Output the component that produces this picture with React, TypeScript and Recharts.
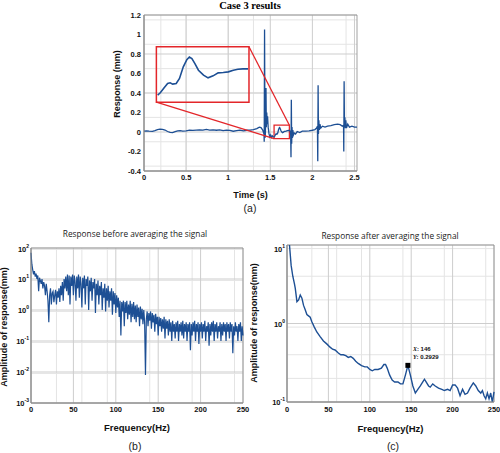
import {
  LineChart,
  Line,
  XAxis,
  YAxis,
  CartesianGrid,
  ReferenceArea,
  ReferenceLine,
  ReferenceDot,
} from 'recharts';

// (a) time response, [t (s), response (mm)]
const signalHead: [number, number][] = [
  [0, 0.01], [0.03, 0.012], [0.06, 0.008], [0.1, 0.006], [0.13, 0.015], [0.16, 0.025],
  [0.19, 0.03], [0.22, 0.028], [0.25, 0.02], [0.28, 0.005], [0.31, -0.004], [0.34, -0.006],
  [0.37, 0.004], [0.4, 0.012], [0.43, 0.015], [0.46, 0.01], [0.5, 0.012], [0.54, 0.02],
  [0.58, 0.016], [0.62, 0.02], [0.66, 0.022], [0.7, 0.02], [0.74, 0.026], [0.78, 0.02],
  [0.82, 0.022], [0.86, 0.018], [0.9, 0.022], [0.94, 0.015], [0.98, 0.02], [1.02, 0.016],
  [1.06, 0.008], [1.1, 0.014], [1.14, 0.02], [1.18, 0.012], [1.22, 0.018], [1.26, 0.02],
  [1.3, 0.025], [1.34, 0.035], [1.37, 0.05], [1.39, 0.045], [1.41, 0.02], [1.425, -0.02],
  [1.428, -0.1], [1.432, 1.05], [1.436, 0.15], [1.44, -0.06], [1.445, 0.1], [1.449, 0.45],
  [1.453, 0.05], [1.458, 0.2], [1.463, 0.08], [1.468, 0.16], [1.475, 0.05], [1.485, -0.02],
  [1.495, -0.05], [1.505, -0.03], [1.515, -0.055], [1.525, -0.04], [1.535, -0.05],
];

// part shown magnified in the inset
const zoomWindow: [number, number][] = [
  [1.5463, -0.0497], [1.5515, -0.0439], [1.558, -0.0332], [1.566, -0.0208], [1.571, -0.0191],
  [1.576, -0.0224], [1.583, -0.0208], [1.5895, -0.0084], [1.597, 0.0205], [1.604, 0.0386],
  [1.609, 0.0452], [1.614, 0.0411], [1.62, 0.0287], [1.627, 0.0122], [1.637, -0.0002],
  [1.646, -0.0068], [1.656, -0.0018], [1.666, 0.0056], [1.676, 0.0064], [1.686, 0.0081],
  [1.696, 0.0122], [1.705, 0.0147], [1.715, 0.0155], [1.725, 0.0155],
];

const signalTail: [number, number][] = [
  [1.735, 0.01], [1.742, -0.02], [1.746, -0.26], [1.75, 0.33], [1.754, -0.12], [1.758, 0.05],
  [1.763, -0.06], [1.768, 0.02], [1.775, -0.03], [1.785, -0.01], [1.8, -0.02], [1.82, 0.005],
  [1.85, -0.005], [1.88, 0.008], [1.92, 0.01], [1.96, 0.012], [2.0, 0.018], [2.03, 0.025],
  [2.05, 0.04], [2.06, 0.06], [2.064, -0.3], [2.068, 0.48], [2.072, -0.02], [2.077, 0.12],
  [2.082, 0.02], [2.09, 0.08], [2.1, 0.04], [2.12, 0.06], [2.15, 0.05], [2.18, 0.06],
  [2.22, 0.065], [2.26, 0.075], [2.3, 0.08], [2.33, 0.075], [2.355, 0.06], [2.37, 0.07],
  [2.373, -0.2], [2.377, 0.52], [2.381, 0.05], [2.386, 0.15], [2.391, 0.04], [2.397, 0.12],
  [2.405, 0.04], [2.42, 0.08], [2.44, 0.05], [2.47, 0.06], [2.5, 0.05], [2.53, 0.05],
];

const timeTicks = [0, 0.5, 1, 1.5, 2, 2.5];
const respTicks = [-0.4, -0.2, 0, 0.2, 0.4, 0.6, 0.8, 1, 1.2];

// (b) spectrum before averaging, one value per Hz from 0 Hz
const ampBefore = [
  70, 30, 20, 14, 18, 12, 15, 10, 13, 4, 11, 9, 7, 10, 5, 8, 6, 3, 7, 4,
  2, 0.4, 3, 5, 1.5, 3.5, 4, 1.8, 3, 4.5, 1.5, 4, 2.5, 5, 1.8, 6, 3, 8, 2, 10,
  5, 12, 4, 14, 3, 13, 1.5, 12, 6, 14, 3, 13, 8, 2, 12, 5, 14, 2.5, 12, 7,
  1.2, 11, 5, 13, 1.5, 10, 6, 12, 1, 9, 4, 11, 2, 8, 5, 10, 0.8, 7, 3, 9,
  1.5, 6, 3, 8, 1, 5, 2.5, 7, 0.9, 5, 2, 6, 1.2, 4, 2, 5, 0.7, 4, 1.5, 3.5,
  0.8, 3, 1.2, 2.5, 0.6, 2, 0.15, 1.8, 0.9, 2, 0.3, 1.8, 0.8, 2, 0.5, 1.5, 0.7, 2, 0.4, 1.6,
  0.6, 1.8, 0.5, 1.4, 0.4, 1.5, 0.6, 1.2, 0.3, 1.3, 0.5, 1.1, 0.35, 1, 0.4, 0.008, 0.5, 0.9, 0.3, 0.8,
  0.45, 0.9, 0.25, 0.8, 0.4, 0.7, 0.2, 0.75, 0.35, 0.6, 0.15, 0.6, 0.3, 0.55, 0.2, 0.5, 0.25, 0.6, 0.12, 0.5,
  0.25, 0.45, 0.15, 0.5, 0.2, 0.4, 0.1, 0.45, 0.2, 0.35, 0.12, 0.4, 0.2, 0.45, 0.1, 0.35, 0.2, 0.4, 0.15, 0.45,
  0.12, 0.35, 0.2, 0.4, 0.1, 0.35, 0.2, 0.4, 0.05, 0.35, 0.15, 0.4, 0.2, 0.45, 0.1, 0.35, 0.2, 0.4, 0.08, 0.35,
  0.2, 0.4, 0.12, 0.35, 0.2, 0.45, 0.1, 0.3, 0.2, 0.4, 0.07, 0.35, 0.15, 0.4, 0.2, 0.45, 0.1, 0.35, 0.2, 0.4,
  0.12, 0.3, 0.2, 0.4, 0.1, 0.35, 0.15, 0.4, 0.2, 0.35, 0.1, 0.4, 0.2, 0.35, 0.12, 0.4, 0.2, 0.35, 0.04, 0.3,
  0.15, 0.4, 0.2, 0.3, 0.1, 0.35, 0.2, 0.4, 0.1, 0.3, 0.15,
];

// (c) spectrum after averaging, [f (Hz), amplitude (mm)]
const ampAfter: [number, number][] = [
  [3, 10], [5, 5.5], [7, 4], [9, 3.2], [10, 2.8], [12, 1.9], [14, 2.0], [16, 2.3], [18, 2.1],
  [20, 1.7], [22, 1.5], [24, 1.3], [26, 1.25], [28, 1.2], [30, 1.05], [33, 0.9], [36, 0.78],
  [40, 0.68], [44, 0.6], [48, 0.55], [52, 0.5], [55, 0.47], [58, 0.46], [62, 0.42], [65, 0.4],
  [68, 0.4], [71, 0.39], [74, 0.37], [77, 0.38], [80, 0.36], [83, 0.33], [86, 0.31], [90, 0.29],
  [94, 0.28], [97, 0.28], [100, 0.26], [103, 0.25], [106, 0.26], [110, 0.26], [114, 0.27],
  [117, 0.3], [119, 0.3], [121, 0.27], [124, 0.22], [127, 0.19], [130, 0.18], [134, 0.18],
  [137, 0.17], [140, 0.17], [143, 0.22], [146, 0.2929], [149, 0.22], [152, 0.16], [155, 0.13],
  [158, 0.145], [161, 0.16], [164, 0.18], [166, 0.195], [168, 0.18], [171, 0.16], [173, 0.155],
  [176, 0.17], [179, 0.16], [183, 0.15], [187, 0.145], [190, 0.14], [194, 0.145], [197, 0.14],
  [200, 0.165], [203, 0.165], [206, 0.15], [209, 0.12], [212, 0.145], [215, 0.125], [218, 0.13],
  [221, 0.15], [225, 0.175], [228, 0.16], [231, 0.14], [234, 0.13], [236, 0.14], [238, 0.12],
  [240, 0.11], [242, 0.13], [244, 0.11], [246, 0.13], [248, 0.1], [250, 0.135],
];

const freqTicks = [0, 50, 100, 150, 200, 250];
const freqMinor = [10, 20, 30, 40, 60, 70, 80, 90, 110, 120, 130, 140, 160, 170, 180, 190, 210, 220, 230, 240];
const decadesB = [0.001, 0.01, 0.1, 1, 10, 100];
const decadesC = [0.1, 1, 10];
const marked = { f: 146, a: 0.2929 };

const BLUE = '#1d4f94';
const RED = '#e3262a';
const SANS = "'Liberation Sans', Arial, sans-serif";
const minorGrid = '#e4e4e4';
const majorGrid = '#cdcdcd';
const boxColor = '#8c8c8c';

const logMinors = (decs: number[]) =>
  decs.slice(0, -1).flatMap((d) => [2, 3, 4, 5, 6, 7, 8, 9].map((m) => d * m));

const tickStyle = { fontSize: 7.5, fontWeight: 700, fontFamily: SANS, fill: '#111' };
const axisTitle = { fontSize: 9, fontWeight: 700, fontFamily: SANS, fill: '#111' };

function LogTick({ x, y, payload }: any) {
  const exp = Math.round(Math.log10(payload.value));
  return (
    <text x={x} y={y} dy={3} textAnchor="end" {...tickStyle}>
      10
      <tspan dy={-4} fontSize={5}>{exp}</tspan>
    </text>
  );
}

function VTitle(text: string, cx: number, cy: number) {
  return () => (
    <text x={cx} y={cy} transform={`rotate(-90 ${cx} ${cy})`} textAnchor="middle" dominantBaseline="middle" {...axisTitle}>
      {text}
    </text>
  );
}

function Marker({ cx, cy }: any) {
  return (
    <g>
      <rect x={cx - 2.5} y={cy - 2.5} width={5} height={5} fill="#000" />
      <text x={cx + 5} y={cy - 14} fontSize={6} fontWeight={700} fontFamily={SANS} fill="#111">
        <tspan fontStyle="italic" fontFamily="'Liberation Serif', serif">X</tspan>: {marked.f}
      </text>
      <text x={cx + 5} y={cy - 6} fontSize={6} fontWeight={700} fontFamily={SANS} fill="#111">
        <tspan fontStyle="italic" fontFamily="'Liberation Serif', serif">Y</tspan>: {marked.a}
      </text>
    </g>
  );
}

const caption = (text: string, left: number, top: number, width: number) => (
  <div style={{ position: 'absolute', left, top, width, textAlign: 'center', fontFamily: SANS, fontSize: 10.5, color: '#222', lineHeight: 1 }}>
    {text}
  </div>
);

export default function App() {
  const signal = [...signalHead, ...zoomWindow, ...signalTail].map(([t, r]) => ({ t, r }));
  const inset = zoomWindow.map(([t, r]) => ({ t, r }));
  const before = ampBefore.map((a, i) => ({ f: i, a }));
  const after = ampAfter.map(([f, a]) => ({ f, a }));
  const minorT = Array.from({ length: 25 }, (_, i) => i * 0.1);
  const minorR = Array.from({ length: 32 }, (_, i) => -0.4 + i * 0.05);

  return (
    <div style={{ position: 'absolute', left: 0, top: 0, width: 500, height: 453, background: '#fff', overflow: 'hidden' }}>
      <div style={{ position: 'absolute', left: 150, width: 200, top: 0, textAlign: 'center', fontFamily: "'Liberation Serif', serif", fontWeight: 700, fontSize: 10.5 }}>
        Case 3 results
      </div>

      {/* (a) */}
      <div style={{ position: 'absolute', left: 0, top: 0 }}>
        <LineChart width={500} height={215} data={signal} margin={{ top: 15, right: 143, bottom: 0, left: 0 }}>
          <CartesianGrid verticalValues={minorT} horizontalValues={minorR} stroke={minorGrid} />
          <CartesianGrid verticalValues={timeTicks} horizontalValues={respTicks} stroke={majorGrid} />
          <XAxis
            dataKey="t"
            type="number"
            domain={[0, 2.53]}
            ticks={timeTicks}
            height={44}
            tickLine={false}
            tickSize={0}
            tickMargin={4}
            axisLine={{ stroke: boxColor }}
            tick={tickStyle}
            label={{ value: 'Time (s)', position: 'insideBottom', offset: 17, style: axisTitle }}
          />
          <YAxis
            type="number"
            domain={[-0.4, 1.2]}
            ticks={respTicks}
            width={144}
            tickLine={false}
            tickSize={0}
            tickMargin={3}
            axisLine={{ stroke: boxColor }}
            tick={tickStyle}
            label={{ content: VTitle('Response (mm)', 118, 84) }}
          />
          <ReferenceArea x1={0} x2={2.53} y1={-0.4} y2={1.2} fill="none" stroke={boxColor} strokeWidth={0.8} />
          <Line dataKey="r" type="linear" dot={false} stroke={BLUE} strokeWidth={1.3} isAnimationActive={false} />
          <ReferenceArea x1={0.147} x2={1.247} y1={0.306} y2={0.875} fill="none" stroke={RED} strokeWidth={1.5} fillOpacity={0} />
          <ReferenceArea x1={1.545} x2={1.727} y1={-0.067} y2={0.07} fill="none" stroke={RED} strokeWidth={1.3} fillOpacity={0} />
          <ReferenceLine segment={[{ x: 1.247, y: 0.875 }, { x: 1.727, y: 0.07 }]} stroke={RED} strokeWidth={1.3} />
          <ReferenceLine segment={[{ x: 0.147, y: 0.306 }, { x: 1.545, y: -0.067 }]} stroke={RED} strokeWidth={1.3} />
        </LineChart>
      </div>

      {/* inset of (a) */}
      <div style={{ position: 'absolute', left: 157, top: 47 }}>
        <LineChart width={92} height={55} data={inset} margin={{ top: 0, right: 0, bottom: 0, left: 0 }}>
          <XAxis dataKey="t" type="number" domain={[1.545, 1.727]} hide />
          <YAxis type="number" domain={[-0.067, 0.07]} hide />
          <Line dataKey="r" type="linear" dot={false} stroke={BLUE} strokeWidth={1.6} isAnimationActive={false} />
        </LineChart>
      </div>
      {caption('(a)', 200, 203, 100)}

      {/* (b) */}
      <div style={{ position: 'absolute', left: 10, top: 228, width: 250, textAlign: 'center', fontFamily: "'Open Sans', sans-serif", fontSize: 8.3, color: '#222' }}>
        Response before averaging the signal
      </div>
      <div style={{ position: 'absolute', left: 0, top: 240 }}>
        <LineChart width={250} height={213} data={before} margin={{ top: 8, right: 7, bottom: 0, left: 0 }}>
          <CartesianGrid verticalValues={freqMinor} horizontalValues={logMinors(decadesB)} stroke={minorGrid} />
          <CartesianGrid verticalValues={freqTicks} horizontalValues={decadesB} stroke={majorGrid} />
          <XAxis
            dataKey="f"
            type="number"
            domain={[0, 250]}
            ticks={freqTicks}
            height={50}
            tickLine={false}
            tickSize={0}
            tickMargin={4}
            axisLine={{ stroke: boxColor }}
            tick={tickStyle}
            label={{ value: 'Frequency(Hz)', position: 'insideBottom', offset: 22, style: { ...axisTitle, fontSize: 9.5 } }}
          />
          <YAxis
            type="number"
            scale="log"
            domain={[0.001, 100]}
            allowDataOverflow
            ticks={decadesB}
            width={31}
            tickLine={false}
            tickSize={0}
            tickMargin={2}
            axisLine={{ stroke: boxColor }}
            tick={<LogTick />}
            label={{ content: VTitle('Amplitude of response(mm)', 5, 87) }}
          />
          <ReferenceArea x1={0} x2={250} y1={0.001} y2={100} fill="none" stroke={boxColor} strokeWidth={0.8} />
          <Line dataKey="a" type="linear" dot={false} stroke={BLUE} strokeWidth={1.2} isAnimationActive={false} />
        </LineChart>
      </div>
      {caption('(b)', 85, 441, 100)}

      {/* (c) */}
      <div style={{ position: 'absolute', left: 265, top: 230, width: 250, textAlign: 'center', fontFamily: "'Open Sans', sans-serif", fontSize: 8.3, color: '#222' }}>
        Response after averaging the signal
      </div>
      <div style={{ position: 'absolute', left: 250, top: 240 }}>
        <LineChart width={250} height={213} data={after} margin={{ top: 5, right: 6, bottom: 0, left: 0 }}>
          <CartesianGrid verticalValues={freqMinor} horizontalValues={logMinors(decadesC)} stroke={minorGrid} />
          <CartesianGrid verticalValues={freqTicks} horizontalValues={decadesC} stroke={majorGrid} />
          <XAxis
            dataKey="f"
            type="number"
            domain={[0, 250]}
            ticks={freqTicks}
            height={51}
            tickLine={false}
            tickSize={0}
            tickMargin={5}
            axisLine={{ stroke: boxColor }}
            tick={tickStyle}
            label={{ value: 'Frequency(Hz)', position: 'insideBottom', offset: 21, style: { ...axisTitle, fontSize: 9.5 } }}
          />
          <YAxis
            type="number"
            scale="log"
            domain={[0.1, 10]}
            allowDataOverflow
            ticks={decadesC}
            width={37}
            tickLine={false}
            tickSize={0}
            tickMargin={2}
            axisLine={{ stroke: boxColor }}
            tick={<LogTick />}
            label={{ content: VTitle('Amplitude of response(mm)', 5, 83) }}
          />
          <ReferenceArea x1={0} x2={250} y1={0.1} y2={10} fill="none" stroke={boxColor} strokeWidth={0.8} />
          <Line dataKey="a" type="linear" dot={false} stroke={BLUE} strokeWidth={1.4} isAnimationActive={false} />
          <ReferenceDot x={marked.f} y={marked.a} shape={<Marker />} />
        </LineChart>
      </div>
      {caption('(c)', 343, 441, 100)}
    </div>
  );
}
